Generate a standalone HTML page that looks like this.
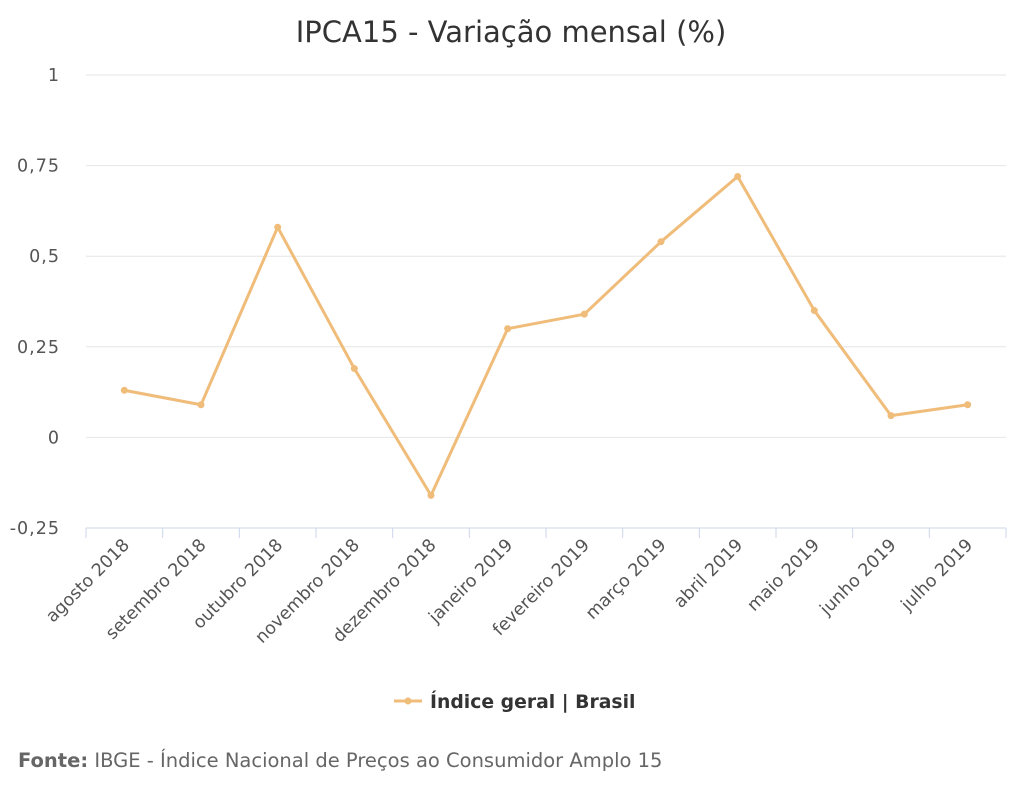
<!DOCTYPE html>
<html><head><meta charset="utf-8"><style>
body{margin:0;background:#fff;width:1024px;height:800px;overflow:hidden;font-family:"DejaVu Sans","Liberation Sans",sans-serif}
</style></head><body>
<svg id="chart" width="1024" height="800" style="position:absolute;left:0;top:0;font-family:'DejaVu Sans','Liberation Sans',sans-serif">
<text x="511" y="42" text-anchor="middle" font-size="29" fill="#333">IPCA15 - Variação mensal (%)</text>
<g id="grid"></g><g id="xaxis"></g><g id="series"></g>
<g>
<line x1="394" y1="701" x2="422" y2="701" stroke="#f0bc7a" stroke-width="3"/>
<circle cx="408" cy="701" r="3.5" fill="#f0bc7a"/>
<text x="430" y="708" font-size="18.8" font-weight="bold" fill="#333">Índice geral | Brasil</text>
</g>
<text x="18" y="767" font-size="19.5" fill="#666"><tspan font-weight="bold">Fonte:</tspan> IBGE - Índice Nacional de Preços ao Consumidor Amplo 15</text>
</svg>
<script>
const categories=["agosto 2018","setembro 2018","outubro 2018","novembro 2018","dezembro 2018","janeiro 2019","fevereiro 2019","março 2019","abril 2019","maio 2019","junho 2019","julho 2019"];
const values=[0.13,0.09,0.58,0.19,-0.16,0.30,0.34,0.54,0.72,0.35,0.06,0.09];
const yTicks=[1,0.75,0.5,0.25,0,-0.25];
const yTickLabels=["1","0,75","0,5","0,25","0","-0,25"];
const NS="http://www.w3.org/2000/svg";
const left=86,right=1006,top0=75,bot=528,yMax=1,yMin=-0.25;
const y=v=>top0+(yMax-v)/(yMax-yMin)*(bot-top0);
const bw=(right-left)/categories.length;
const x=i=>left+bw*(i+0.5);
function mk(t,a,p){const e=document.createElementNS(NS,t);for(const k in a)e.setAttribute(k,a[k]);p.appendChild(e);return e;}
const grid=document.getElementById('grid');
yTicks.forEach((v,i)=>{
 const l=mk('line',{x1:left,x2:right,y1:y(v),y2:y(v),stroke:v===yMin?'#ccd6eb':'#e6e6e6','stroke-width':1},grid);
 
 
 const t=mk('text',{x:60,y:y(v)+6,'text-anchor':'end','font-size':17.5,'letter-spacing':1,fill:'#555'},grid);
 t.textContent=yTickLabels[i];
 
 
});
const xa=document.getElementById('xaxis');
categories.forEach((c,i)=>{
 const tk=mk('line',{x1:left+bw*i,x2:left+bw*i,y1:bot,y2:bot+10,stroke:'#ccd6eb'},xa);
 
 
 const cx=x(i)+6,cy=bot+18;
 const t=mk('text',{x:cx,y:cy,'text-anchor':'end','font-size':17.5,fill:'#555',transform:`rotate(-45 ${cx} ${cy})`},xa);
 t.textContent=c;
 
 
});
mk('line',{x1:right,x2:right,y1:bot,y2:bot+10,stroke:'#ccd6eb'},xa);
const s=document.getElementById('series');
const pl=mk('polyline',{points:values.map((v,i)=>x(i)+','+y(v)).join(' '),fill:'none',stroke:'#f0bc7a','stroke-width':3,'stroke-linejoin':'round'},s);


values.forEach((v,i)=>{
 const c=mk('circle',{cx:x(i),cy:y(v),r:3.5,fill:'#f0bc7a'},s);
 
 
});
</script>
</body></html>
